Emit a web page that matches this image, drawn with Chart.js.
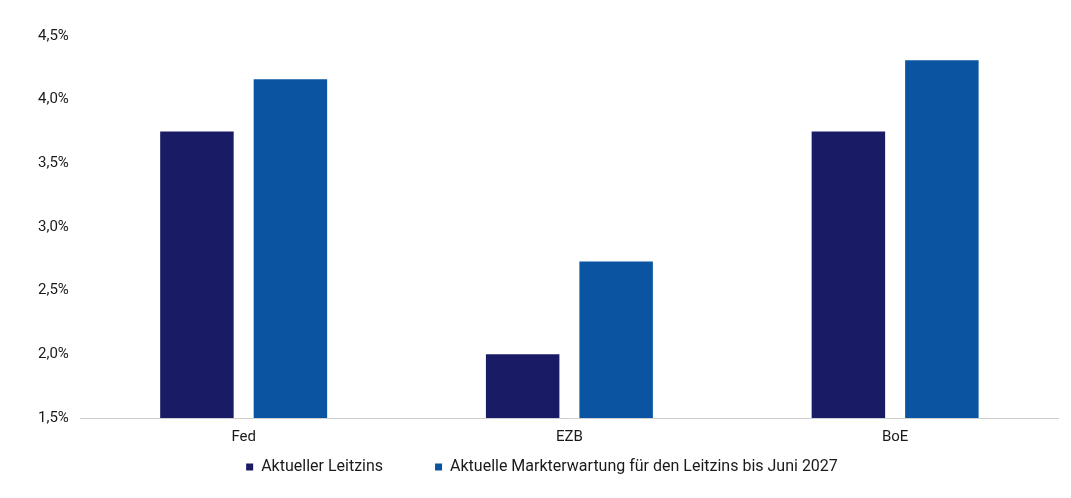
<!DOCTYPE html>
<html lang="de">
<head>
  <meta charset="UTF-8">
  <title>Leitzinsen</title>
  <script src="https://cdn.jsdelivr.net/npm/chart.js"></script>
  <style>
    html, body { margin: 0; padding: 0; background: #fff; }
    #wrap { width: 1071px; height: 498px; position: relative; }
  </style>
</head>
<body>
<div id="wrap"><canvas id="chart"></canvas></div>
<script>
const kategorien = ["Fed", "EZB", "BoE"];
const aktuellerLeitzins = [3.75, 2.0, 3.75];
const markterwartung = [4.16, 2.73, 4.31];
const serienNamen = ["Aktueller Leitzins", "Aktuelle Markterwartung für den Leitzins bis Juni 2027"];

Chart.defaults.font.family = "Roboto, 'Liberation Sans', sans-serif";
Chart.defaults.color = "#1a1a1a";

// Legende: breiter Abstand zwischen den Einträgen, aber kompakt in der Höhe
const VERSATZ = 49;
const legendeKompakt = {
  id: "legendeKompakt",
  beforeLayout(chart) {
    const lg = chart.legend;
    if (lg && !lg._kompakt) {
      const fit = lg.fit;
      lg.fit = function () { fit.call(this); this.height -= VERSATZ; };
      lg._kompakt = true;
    }
  },
  afterLayout(chart) {
    if (chart.legend) chart.legend.top -= VERSATZ;
  }
};

new Chart(document.getElementById("chart"), {
  type: "bar",
  data: {
    labels: kategorien,
    datasets: [
      { label: serienNamen[0], data: aktuellerLeitzins, backgroundColor: "#191b64",
        categoryPercentage: 0.574, barPercentage: 0.786 },
      { label: serienNamen[1], data: markterwartung, backgroundColor: "#0b54a2",
        categoryPercentage: 0.574, barPercentage: 0.786 }
    ]
  },
  plugins: [legendeKompakt],
  options: {
    responsive: true,
    maintainAspectRatio: false,
    animation: false,
    layout: { padding: { left: 26, right: 13, top: 36, bottom: 13 } },
    plugins: {
      legend: {
        position: "bottom",
        labels: {
          usePointStyle: true, pointStyle: "rect", boxWidth: 7, boxHeight: 7,
          padding: 52, font: { size: 16 }
        }
      },
      tooltip: { enabled: false }
    },
    scales: {
      x: {
        grid: { display: false, drawTicks: false },
        border: { display: true, color: "#cfcfcf", width: 1 },
        ticks: { font: { size: 15 }, padding: 10 }
      },
      y: {
        min: 1.5, max: 4.5,
        grid: { display: false, drawTicks: false },
        border: { display: false },
        ticks: {
          stepSize: 0.5, padding: 12, font: { size: 15 },
          callback: v => v.toFixed(1).replace(".", ",") + "%"
        }
      }
    }
  }
});
</script>
</body>
</html>
